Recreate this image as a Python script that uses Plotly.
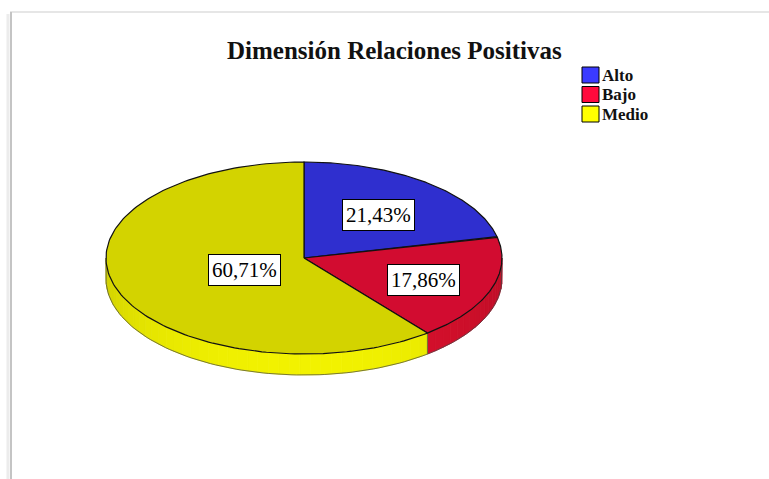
import numpy as np
import plotly.graph_objects as go

# ---- data ----
categories = ["Alto", "Bajo", "Medio"]
percentages = [21.43, 17.86, 60.71]
label_texts = ["21,43%", "17,86%", "60,71%"]
title_text = "Dimensión Relaciones Positivas"

# ---- style ----
top_colors = ["#2f2fcf", "#d20c30", "#d3d300"]
side_rgb = [(40, 40, 170), (214, 16, 44), (238, 238, 0)]
legend_colors = ["#3a3aff", "#ff0a3c", "#ffff00"]
label_frac = [0.60, 0.64, 0.32]   # radial position of each label
W, H = 769, 479
cx, cy, rx, ry, depth = 304, 258, 198, 96, 21
serif = "Liberation Serif, Times New Roman, serif"

fig = go.Figure()

def ell(t_deg, dy=0.0):
    t = np.radians(t_deg)
    return cx + rx * np.cos(t), cy - ry * np.sin(t) + dy

total = sum(percentages)
cum = 0.0
slices = []
for v in percentages:
    start = 90 - 360 * cum / total
    cum += v
    end = 90 - 360 * cum / total
    slices.append((start, end))

# sides (front half only: angles between -180 and 0), shaded in small segments
for (start, end), rgb in zip(slices, side_rgb):
    lo, hi = max(end, -180), min(start, 0)
    if hi <= lo:
        continue
    edges = np.linspace(hi, lo, max(2, int((hi - lo) / 3) + 1))
    for a, b in zip(edges[:-1], edges[1:]):
        ts = np.linspace(a, b, 6)
        xt, yt = ell(ts)
        xb, yb = ell(ts[::-1], depth)
        xs = np.concatenate([xt, xb, xt[:1]])
        ys = np.concatenate([yt, yb, yt[:1]])
        m = np.radians((a + b) / 2)
        f = 0.87 + 0.15 * (-np.sin(m))
        c = "rgb(%d,%d,%d)" % tuple(min(255, int(v * f)) for v in rgb)
        fig.add_trace(go.Scatter(x=xs, y=ys, fill="toself", fillcolor=c,
                                 mode="lines", line=dict(color=c, width=0.8),
                                 hoverinfo="skip", showlegend=False))
    # outline of the side piece
    ts = np.linspace(hi, lo, 80)
    xb, yb = ell(ts, depth)
    xt0, yt0 = ell(np.array([hi, lo]))
    fig.add_trace(go.Scatter(x=np.concatenate([[xt0[0]], xb, [xt0[1]]]),
                             y=np.concatenate([[yt0[0]], yb, [yt0[1]]]),
                             mode="lines", line=dict(color="#444444", width=0.7),
                             hoverinfo="skip", showlegend=False))

# top faces
for (start, end), col, cat in zip(slices, top_colors, categories):
    ts = np.linspace(start, end, 160)
    xe, ye = ell(ts)
    xs = np.concatenate([[cx], xe, [cx]])
    ys = np.concatenate([[cy], ye, [cy]])
    fig.add_trace(go.Scatter(x=xs, y=ys, fill="toself", fillcolor=col,
                             mode="lines", line=dict(color="#111111", width=1.2),
                             name=cat, hoverinfo="name", showlegend=False))

# labels
for (start, end), txt, f in zip(slices, label_texts, label_frac):
    mid = np.radians((start + end) / 2)
    lx = cx + f * rx * np.cos(mid)
    ly = cy - f * ry * np.sin(mid) + 2
    fig.add_annotation(x=lx, y=ly, text=txt, showarrow=False,
                       font=dict(family=serif, size=21, color="black"),
                       bgcolor="white", bordercolor="black", borderwidth=1, borderpad=3)

# title
fig.add_annotation(x=394, y=50, text="<b>" + title_text + "</b>", showarrow=False,
                   font=dict(family=serif, size=25, color="#111111"))

# legend (manual)
for i, (cat, col) in enumerate(zip(categories, legend_colors)):
    y0 = 67 + i * 19.5
    fig.add_shape(type="rect", x0=582, x1=599, y0=y0, y1=y0 + 16,
                  fillcolor=col, line=dict(color="black", width=1), layer="above")
    fig.add_annotation(x=601, y=y0 + 8, text="<b>" + cat + "</b>", showarrow=False,
                       xanchor="left", borderpad=0,
                       font=dict(family=serif, size=17, color="#111111"))

# frame
fig.add_shape(type="line", x0=10, x1=W, y0=12, y1=12, line=dict(color="#e6e6e6", width=2))
fig.add_shape(type="line", x0=11, x1=11, y0=12, y1=H, line=dict(color="#c4c4c4", width=2))
fig.add_shape(type="line", x0=8, x1=8, y0=14, y1=H, line=dict(color="#ececec", width=3))

fig.update_layout(
    width=W, height=H, margin=dict(l=0, r=0, t=0, b=0),
    paper_bgcolor="white", plot_bgcolor="white",
    xaxis=dict(range=[0, W], visible=False, fixedrange=True),
    yaxis=dict(range=[H, 0], visible=False, fixedrange=True),
    showlegend=False,
)
fig.write_html("out.html")
